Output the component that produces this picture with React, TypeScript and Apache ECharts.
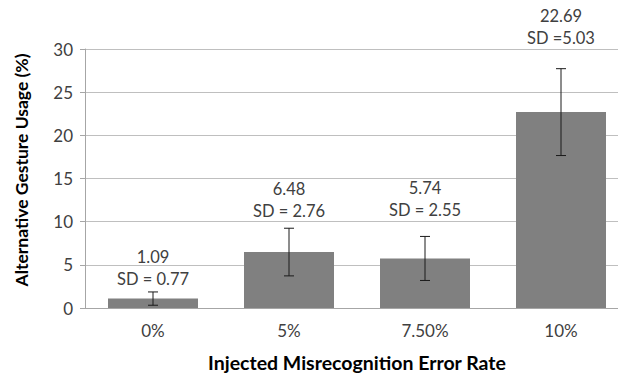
import React, { useEffect, useRef } from "react";
import * as echarts from "echarts";

const categories = ["0%", "5%", "7.50%", "10%"];
const means = [1.09, 6.48, 5.74, 22.69];
const sds = [0.77, 2.76, 2.55, 5.03];
const sdTexts = ["SD = 0.77", "SD = 2.76", "SD = 2.55", "SD =5.03"];
const yMin = 0;
const yMax = 30;
const yStep = 5;

const FONT = "Lato";

export default function App() {
  const ref = useRef<HTMLDivElement>(null);
  useEffect(() => {
    const chart = echarts.init(ref.current!, null, { renderer: "svg" });
    const labelLift = [2, 6, 15, 20];
    chart.setOption({
      animation: false,
      textStyle: { fontFamily: FONT },
      grid: { left: 85, top: 49, right: 0, height: 261 },
      xAxis: {
        type: "category",
        data: categories,
        axisLine: { lineStyle: { color: "#a6a6a6", width: 1 } },
        axisTick: { show: false },
        axisLabel: { color: "#404040", fontSize: 17, margin: 14, fontFamily: FONT },
        name: "Injected Misrecognition Error Rate",
        nameLocation: "middle",
        nameGap: 44,
        nameTextStyle: { fontSize: 19.5, fontWeight: "bold", color: "#000", fontFamily: FONT },
      },
      yAxis: {
        type: "value",
        min: yMin,
        max: yMax,
        interval: yStep,
        axisLine: { show: true, lineStyle: { color: "#a6a6a6", width: 1 } },
        axisTick: { show: true, length: 5, lineStyle: { color: "#a6a6a6" } },
        axisLabel: { color: "#404040", fontSize: 17, margin: 12, fontFamily: FONT },
        splitLine: { show: true, lineStyle: { color: "#bfbfbf", width: 1 } },
      },
      graphic: [
        {
          type: "text",
          x: 21,
          y: 170,
          rotation: Math.PI / 2,
          style: {
            text: "Alternative Gesture Usage (%)",
            fontSize: 17.5,
            fontWeight: "bold",
            fontFamily: FONT,
            fill: "#000",
            align: "center",
            verticalAlign: "middle",
          },
        },
      ],
      series: [
        {
          type: "bar",
          data: means,
          barWidth: 90,
          itemStyle: { color: "#808080" },
          z: 2,
        },
        {
          type: "custom",
          data: means.map((m, i) => [i, m, sds[i]]),
          z: 5,
          renderItem: (params: any, api: any) => {
            const i = api.value(0);
            const m = api.value(1);
            const sd = api.value(2);
            const hi = api.coord([i, m + sd]);
            const lo = api.coord([i, m - sd]);
            const cap = 5;
            const st = { stroke: "#1a1a1a", lineWidth: 1 };
            return {
              type: "group",
              children: [
                { type: "line", shape: { x1: hi[0], y1: hi[1], x2: lo[0], y2: lo[1] }, style: st },
                { type: "line", shape: { x1: hi[0] - cap, y1: hi[1], x2: hi[0] + cap, y2: hi[1] }, style: st },
                { type: "line", shape: { x1: lo[0] - cap, y1: lo[1], x2: lo[0] + cap, y2: lo[1] }, style: st },
                {
                  type: "text",
                  x: hi[0],
                  y: hi[1] - labelLift[i],
                  style: {
                    text: m.toFixed(2) + "\n" + sdTexts[i],
                    fontSize: 16.5,
                    fontFamily: FONT,
                    lineHeight: 22,
                    fill: "#404040",
                    align: "center",
                    verticalAlign: "bottom",
                  },
                },
              ],
            };
          },
        },
      ],
    });
    return () => chart.dispose();
  }, []);
  return (
    <div
      ref={ref}
      style={{ position: "fixed", left: 0, top: 0, width: 629, height: 377, background: "#fff" }}
    />
  );
}
